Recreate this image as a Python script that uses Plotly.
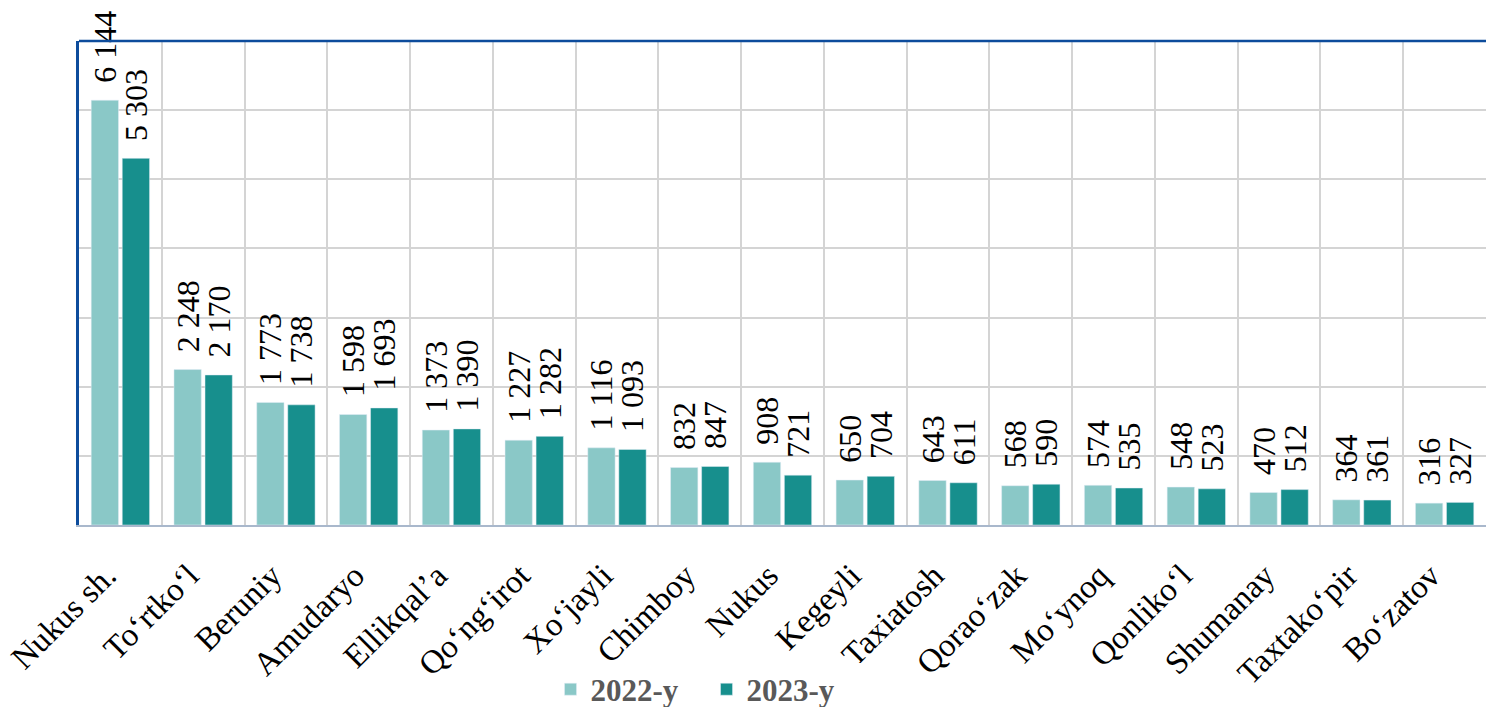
import plotly.graph_objects as go

# ── Data ──
districts = [
    "Nukus sh.", "To‘rtko‘l", "Beruniy", "Amudaryo", "Ellikqal’a",
    "Qo‘ng‘irot", "Xo‘jayli", "Chimboy", "Nukus", "Kegeyli", "Taxiatosh",
    "Qorao‘zak", "Mo‘ynoq", "Qonliko‘l", "Shumanay", "Taxtako‘pir", "Bo‘zatov",
]
values_2022 = [6144, 2248, 1773, 1598, 1373, 1227, 1116, 832, 908, 650, 643, 568, 574, 548, 470, 364, 316]
values_2023 = [5303, 2170, 1738, 1693, 1390, 1282, 1093, 847, 721, 704, 611, 590, 535, 523, 512, 361, 327]

COLOR_2022 = "#8AC8C7"
COLOR_2023 = "#178F8D"
SERIF = "Liberation Serif, serif"


def fmt(v):
    # space as thousands separator, a little padding in front for the gap above the bar
    return "\u2009\u00a0" + f"{v:,}".replace(",", " ")


fig = go.Figure()
for name, vals, color in [("2022-y", values_2022, COLOR_2022), ("2023-y", values_2023, COLOR_2023)]:
    fig.add_trace(go.Bar(
        name=name,
        x=districts,
        y=vals,
        marker_color=color,
        text=[fmt(v) for v in vals],
        textposition="outside",
        textangle=-90,
        constraintext="none",
        textfont=dict(family=SERIF, size=32, color="#000000"),
        outsidetextfont=dict(family=SERIF, size=32, color="#000000"),
        cliponaxis=False,
    ))

fig.update_layout(
    width=1486,
    height=707,
    barmode="group",
    bargap=0.25,
    bargroupgap=0.12,
    paper_bgcolor="white",
    plot_bgcolor="white",
    font=dict(family=SERIF, color="#000000"),
    margin=dict(l=79, r=0, t=41, b=182, autoexpand=False),
    showlegend=True,
    legend=dict(
        orientation="h",
        x=0.446, xanchor="center",
        y=-0.34, yanchor="middle",
        font=dict(family=SERIF, size=31, color="#595959", weight="bold"),
        itemwidth=30,
        entrywidth=111,
    ),
)
fig.update_xaxes(
    tickangle=-45,
    tickfont=dict(family=SERIF, size=33, color="#000000"),
    ticklabelstandoff=16,
    ticklabelshift=-14,
    tickson="boundaries",
    automargin=False,
    showgrid=True,
    gridcolor="#D4D4D4",
    gridwidth=1.5,
    showline=True,
    linecolor="#A9B8CC",
    linewidth=2,
    ticks="",
)
fig.update_yaxes(
    range=[0, 7000],
    dtick=1000,
    showticklabels=False,
    automargin=False,
    showgrid=True,
    gridcolor="#D4D4D4",
    gridwidth=1.5,
    showline=True,
    linecolor="#0D4C9C",
    linewidth=2.5,
    zeroline=False,
)
# blue top border
fig.add_shape(type="line", xref="paper", yref="paper", x0=0, x1=1, y0=1, y1=1,
              line=dict(color="#0D4C9C", width=2.5))

fig.write_html(
    "out.html",
    config={"displayModeBar": False},
    post_script="document.body.style.margin='0';document.body.style.overflow='hidden';",
)
